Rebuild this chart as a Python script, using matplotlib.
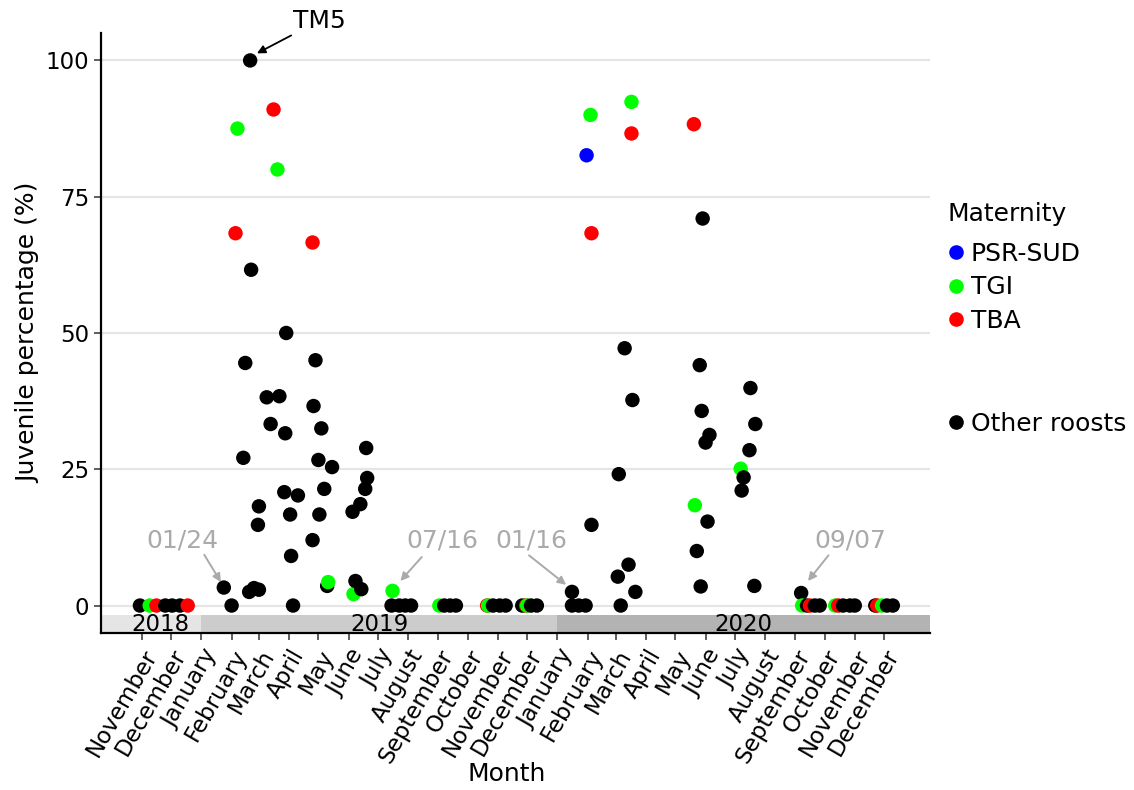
import pandas as pd
import matplotlib.pyplot as plt
from matplotlib.lines import Line2D

# juvenile percentage per roost visit, by maternity group
psr_dates = ['2020-01-31']
psr_vals = [82.6]

tgi_dates = ['2018-11-09', '2019-02-07', '2019-03-20', '2019-05-11', '2019-06-06',
             '2019-07-16', '2019-09-02', '2019-10-22', '2019-12-01', '2020-02-04',
             '2020-03-17', '2020-05-21', '2020-07-07', '2020-09-08', '2020-10-12',
             '2020-11-29']
tgi_vals = [0, 87.5, 80.0, 4.3, 2.1, 2.7, 0, 0, 0, 90.0, 92.4, 18.4, 25.1, 0, 0, 0]

tba_dates = ['2018-11-16', '2018-12-18', '2019-02-05', '2019-03-16', '2019-04-25',
             '2019-10-21', '2019-11-30', '2020-02-05', '2020-03-17', '2020-05-20',
             '2020-09-16', '2020-10-15', '2020-11-24']
tba_vals = [0, 0, 68.3, 91.0, 66.6, 0, 0, 68.3, 86.6, 88.3, 0, 0, 0]

other_dates = ['2018-10-30', '2018-11-25', '2018-12-02', '2018-12-10', '2019-01-24',
               '2019-02-01', '2019-02-13', '2019-02-15', '2019-02-19', '2019-02-20',
               '2019-02-21', '2019-02-24', '2019-02-28', '2019-03-01', '2019-03-01',
               '2019-03-09', '2019-03-13', '2019-03-22', '2019-03-27', '2019-03-28',
               '2019-03-29', '2019-04-02', '2019-04-03', '2019-04-05', '2019-04-10',
               '2019-04-25', '2019-04-26', '2019-04-28', '2019-05-01', '2019-05-02',
               '2019-05-04', '2019-05-07', '2019-05-10', '2019-05-15', '2019-06-05',
               '2019-06-08', '2019-06-13', '2019-06-14', '2019-06-18', '2019-06-19',
               '2019-06-20', '2019-07-15', '2019-07-23', '2019-07-29', '2019-08-04',
               '2019-09-07', '2019-09-13', '2019-09-19', '2019-10-27', '2019-11-03',
               '2019-11-09', '2019-11-26', '2019-12-05', '2019-12-11', '2020-01-16',
               '2020-01-16', '2020-01-23', '2020-01-30', '2020-02-05', '2020-03-03',
               '2020-03-04', '2020-03-06', '2020-03-10', '2020-03-14', '2020-03-18',
               '2020-03-21', '2020-05-23', '2020-05-26', '2020-05-27', '2020-05-28',
               '2020-05-29', '2020-06-01', '2020-06-03', '2020-06-05', '2020-07-08',
               '2020-07-10', '2020-07-16', '2020-07-17', '2020-07-21', '2020-07-22',
               '2020-09-07', '2020-09-13', '2020-09-21', '2020-09-26', '2020-10-20',
               '2020-10-27', '2020-11-01', '2020-11-22', '2020-12-04', '2020-12-10']
other_vals = [0, 0, 0, 0, 3.3,
              0, 27.1, 44.5, 2.5, 100,
              61.6, 3.2, 14.8, 18.2, 2.9,
              38.2, 33.3, 38.4, 20.8, 31.6,
              50.0, 16.7, 9.1, 0, 20.2,
              12.0, 36.6, 45.0, 26.7, 16.7,
              32.5, 21.4, 3.6, 25.4, 17.2,
              4.5, 18.6, 3.0, 21.4, 28.9,
              23.4, 0, 0, 0, 0,
              0, 0, 0, 0, 0,
              0, 0, 0, 0, 2.5,
              0, 0, 0, 14.8, 5.3,
              24.1, 0, 47.2, 7.5, 37.7,
              2.5, 10.0, 44.1, 3.5, 35.7,
              71.0, 29.9, 15.4, 31.3, 21.1,
              23.5, 28.5, 39.9, 3.6, 33.3,
              2.3, 0, 0, 0, 0,
              0, 0, 0, 0, 0]

years = ['2018', '2019', '2020']
year_starts = ['2018-09-20', '2019-01-01', '2020-01-01']
year_ends = ['2019-01-01', '2020-01-01', '2021-01-17']
year_label_x = ['2018-11-20', '2019-07-03', '2020-07-10']
year_colors = ['#e5e5e5', '#cccccc', '#b3b3b3']

# date annotations: label, label position, arrow start, arrow tip
notes = [
    ('01/24', ('2018-12-13', 12.0), ('2019-01-04', 9.3), ('2019-01-21', 4.3)),
    ('07/16', ('2019-09-05', 12.0), ('2019-08-15', 8.9), ('2019-07-24', 4.5)),
    ('01/16', ('2019-12-05', 12.0), ('2019-12-03', 9.2), ('2020-01-10', 3.8)),
    ('09/07', ('2020-10-27', 12.0), ('2020-10-05', 9.2), ('2020-09-14', 4.5)),
]

groups = [('PSR-SUD', psr_dates, psr_vals, '#0000ff'),
          ('TGI', tgi_dates, tgi_vals, '#00ff00'),
          ('TBA', tba_dates, tba_vals, '#ff0000'),
          ('Other roosts', other_dates, other_vals, '#000000')]

rows = []
for name, d, v, c in groups:
    for di, vi in zip(d, v):
        rows.append((pd.Timestamp(di), vi, c))
df = pd.DataFrame(rows, columns=['date', 'val', 'color']).sort_values('date', kind='stable')

plt.rcParams['font.family'] = 'DejaVu Sans'
fig = plt.figure(figsize=(11.34, 7.9), dpi=100)
ax = fig.add_axes([0.089, 0.199, 0.731, 0.759])

for y in [0, 25, 50, 75, 100]:
    ax.axhline(y, color='#e5e5e5', lw=1.6, zorder=0)

for lab, s, e, xc, col in zip(years, year_starts, year_ends, year_label_x, year_colors):
    ax.axvspan(pd.Timestamp(s), pd.Timestamp(e), ymin=0, ymax=(5 - 1.7) / 110,
               color=col, lw=0, zorder=1)
    ax.text(pd.Timestamp(xc), -3.4, lab, ha='center', va='center', fontsize=16.5, zorder=2)

ax.scatter(df['date'], df['val'], c=df['color'], s=108, linewidths=0, zorder=3)

ax.annotate('TM5', xy=(pd.Timestamp('2019-02-27'), 101.3),
            xytext=(pd.Timestamp('2019-04-05'), 107.3), fontsize=18, va='center',
            annotation_clip=False,
            arrowprops=dict(arrowstyle='-|>', color='black', lw=1.3, mutation_scale=12,
                            shrinkA=0, shrinkB=0))
for lab, tpos, start, tip in notes:
    ax.text(pd.Timestamp(tpos[0]), tpos[1], lab, ha='center', va='center',
            fontsize=18, color='#aaaaaa')
    ax.annotate('', xy=(pd.Timestamp(tip[0]), tip[1]),
                xytext=(pd.Timestamp(start[0]), start[1]),
                arrowprops=dict(arrowstyle='-|>', color='#aaaaaa', lw=1.4,
                                mutation_scale=12, shrinkA=0, shrinkB=0))

ax.set_xlim(pd.Timestamp('2018-09-20'), pd.Timestamp('2021-01-17'))
ax.set_ylim(-5, 105)
ax.set_yticks([0, 25, 50, 75, 100])

month_ticks = pd.date_range('2018-11-01', '2020-12-01', freq='MS')
ax.set_xticks(month_ticks)
ax.set_xticklabels([d.strftime('%B') for d in month_ticks], rotation=60,
                   ha='right', rotation_mode='anchor')
ax.tick_params(axis='both', labelsize=16.5, color='#333333', length=5, width=1.1)
ax.tick_params(axis='x', pad=4)

for side in ['top', 'right']:
    ax.spines[side].set_visible(False)
for side in ['left', 'bottom']:
    ax.spines[side].set_linewidth(1.6)
    ax.spines[side].set_color('black')

ax.set_xlabel('Month', fontsize=18)
ax.xaxis.set_label_coords(0.489, -0.215)
ax.set_ylabel('Juvenile percentage (%)', fontsize=18)

handles = [Line2D([], [], marker='o', ls='', color=c, markersize=9.5) for _, _, _, c in groups]
fig.text(947 / 1134, 1 - 214 / 790, 'Maternity', fontsize=18, va='center', ha='left')
fig.legend(handles[:3], [g[0] for g in groups[:3]],
           loc='upper left', bbox_to_anchor=(0.834, 1 - 242 / 790), frameon=False,
           fontsize=18, handletextpad=0.2, labelspacing=0.37,
           handlelength=0.8, borderaxespad=0, borderpad=0)
fig.legend(handles[3:], [groups[3][0]], loc='upper left',
           bbox_to_anchor=(0.834, 1 - 412 / 790), frameon=False, fontsize=18,
           handletextpad=0.2, handlelength=0.8, borderaxespad=0, borderpad=0)

fig.savefig('out.png', dpi=100)
